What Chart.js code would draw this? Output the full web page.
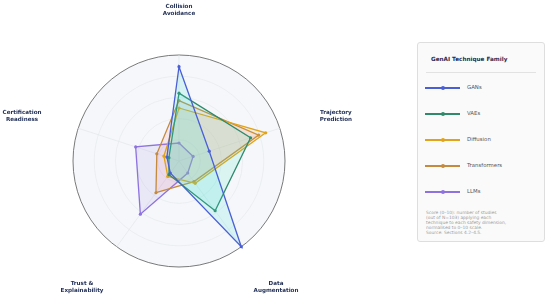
<!DOCTYPE html>
<html>
<head>
<meta charset="utf-8">
<script src="https://cdn.jsdelivr.net/npm/chart.js@4"></script>
<style>
  html, body { margin: 0; padding: 0; background: #ffffff; }
  body { width: 550px; height: 294px; position: relative; overflow: hidden; font-family: 'DejaVu Sans', sans-serif; }
  #wrap { position: absolute; left: 0; top: 0; width: 360px; height: 294px; }
  #legend {
    position: absolute; left: 417px; top: 42px; width: 128px; height: 200px;
    box-sizing: border-box; border: 1px solid #dedede; border-radius: 3px; background: #fafafa;
  }
  #legend .title { position: absolute; left: 13px; top: 13px; font-size: 5.7px; font-weight: bold; color: #1f2d55; }
  #legend .sep { position: absolute; left: 8px; right: 8px; top: 29px; height: 1px; background: #e2e2e2; }
  #legend .item { position: absolute; left: 7px; height: 8px; }
  #legend .swatch { position: absolute; left: 0; top: 3px; width: 35px; height: 2px; }
  #legend .dot { position: absolute; left: 16px; top: 2px; width: 4px; height: 4px; border-radius: 50%; }
  #legend .lab { position: absolute; left: 42px; top: 0px; font-size: 5.4px; color: #555; white-space: nowrap; }
  #legend .note { position: absolute; left: 8px; top: 167px; font-size: 4.4px; line-height: 5px; color: #9a9a9a; }
</style>
</head>
<body>
<div id="wrap"><canvas id="radar"></canvas></div>
<div id="legend"></div>
<script>
// Safety dimensions (clockwise from the top)
const dimensions = [
  ['Collision', 'Avoidance'],
  ['Trajectory', 'Prediction'],
  ['Data', 'Augmentation'],
  ['Trust &', 'Explainability'],
  ['Certification', 'Readiness']
];

// Technique families, scores 0-10
const families = ['GANs', 'VAEs', 'Diffusion', 'Transformers', 'LLMs'];
const gansScores = [8.9, 3.0, 10.0, 1.4, 1.2];
const vaesScores = [6.4, 7.1, 5.8, 1.6, 1.0];
const diffusionScores = [5.0, 8.6, 2.6, 1.8, 1.5];
const transformersScores = [5.7, 7.9, 2.4, 3.7, 2.2];
const llmsScores = [1.7, 1.4, 1.4, 6.2, 4.3];
const scoreTicks = [0, 2, 4, 6, 8, 10];

const lineColors = ['#4a5fd6', '#2f8a6c', '#e2a318', '#c58a3c', '#8d72e0'];
const fillColors = [
  'rgba(60, 225, 215, 0.16)',
  'rgba(60, 225, 200, 0.14)',
  'rgba(235, 175, 70, 0.14)',
  'rgba(245, 120, 150, 0.13)',
  'rgba(150, 125, 230, 0.12)'
];
const seriesData = [gansScores, vaesScores, diffusionScores, transformersScores, llmsScores];

// Legend (HTML panel on the right)
const legend = document.getElementById('legend');
let html = '<div class="title">GenAI Technique Family</div><div class="sep"></div>';
families.forEach((name, i) => {
  const top = 41 + i * 25.9;
  html += `<div class="item" style="top:${top}px;width:110px">
    <div class="swatch" style="background:${lineColors[i]}"></div>
    <div class="dot" style="background:${lineColors[i]}"></div>
    <div class="lab">${name}</div></div>`;
});
html += '<div class="note">Score (0–10): number of studies<br>(out of N=103) applying each<br>technique to each safety dimension,<br>normalised to 0–10 scale.<br>Source: Sections 4.2–4.5.</div>';
legend.innerHTML = html;

// Light disc behind the polar grid
const discBackground = {
  id: 'discBackground',
  beforeDraw(chart) {
    const s = chart.scales.r;
    const ctx = chart.ctx;
    ctx.save();
    ctx.beginPath();
    ctx.arc(s.xCenter, s.yCenter, s.drawingArea, 0, Math.PI * 2);
    ctx.fillStyle = '#f5f7fa';
    ctx.fill();
    ctx.restore();
  }
};

// Axis labels placed well outside the circle (slightly wider than tall)
const outerLabels = {
  id: 'outerLabels',
  afterDraw(chart) {
    const s = chart.scales.r;
    const ctx = chart.ctx;
    ctx.save();
    ctx.font = "bold 5.6px 'DejaVu Sans'";
    ctx.fillStyle = '#1f2d55';
    ctx.textAlign = 'center';
    ctx.textBaseline = 'middle';
    dimensions.forEach((lines, i) => {
      const a = s.getIndexAngle(i) - Math.PI / 2;
      const x = s.xCenter + Math.cos(a) * 165;
      const y = s.yCenter + Math.sin(a) * 153 + 2;
      lines.forEach((t, k) => ctx.fillText(t, x, y + (k - 0.5) * 7));
    });
    ctx.restore();
  }
};

new Chart(document.getElementById('radar'), {
  type: 'radar',
  data: {
    labels: dimensions.map(d => d.join(' ')),
    datasets: families.map((name, i) => ({
      label: name,
      data: seriesData[i],
      borderColor: lineColors[i],
      backgroundColor: fillColors[i],
      borderWidth: 1.3,
      fill: true,
      pointRadius: 1.6,
      pointBackgroundColor: lineColors[i],
      pointBorderWidth: 0
    }))
  },
  options: {
    responsive: true,
    maintainAspectRatio: false,
    animation: false,
    layout: { padding: { left: 73, right: 75, top: 55, bottom: 27 } },
    plugins: {
      legend: { display: false },
      tooltip: { enabled: false }
    },
    scales: {
      r: {
        min: 0,
        max: 10,
        afterBuildTicks: axis => { axis.ticks = scoreTicks.map(v => ({ value: v })); },
        ticks: { display: false },
        pointLabels: { display: false },
        grid: {
          circular: true,
          color: ctx => ctx.tick && ctx.tick.value === 10 ? '#6b6b6b' : '#e7e9ee',
          lineWidth: ctx => ctx.tick && ctx.tick.value === 10 ? 0.9 : 0.7
        },
        angleLines: { color: '#e4e6ea', lineWidth: 0.7 }
      }
    }
  },
  plugins: [discBackground, outerLabels]
});
</script>
</body>
</html>
